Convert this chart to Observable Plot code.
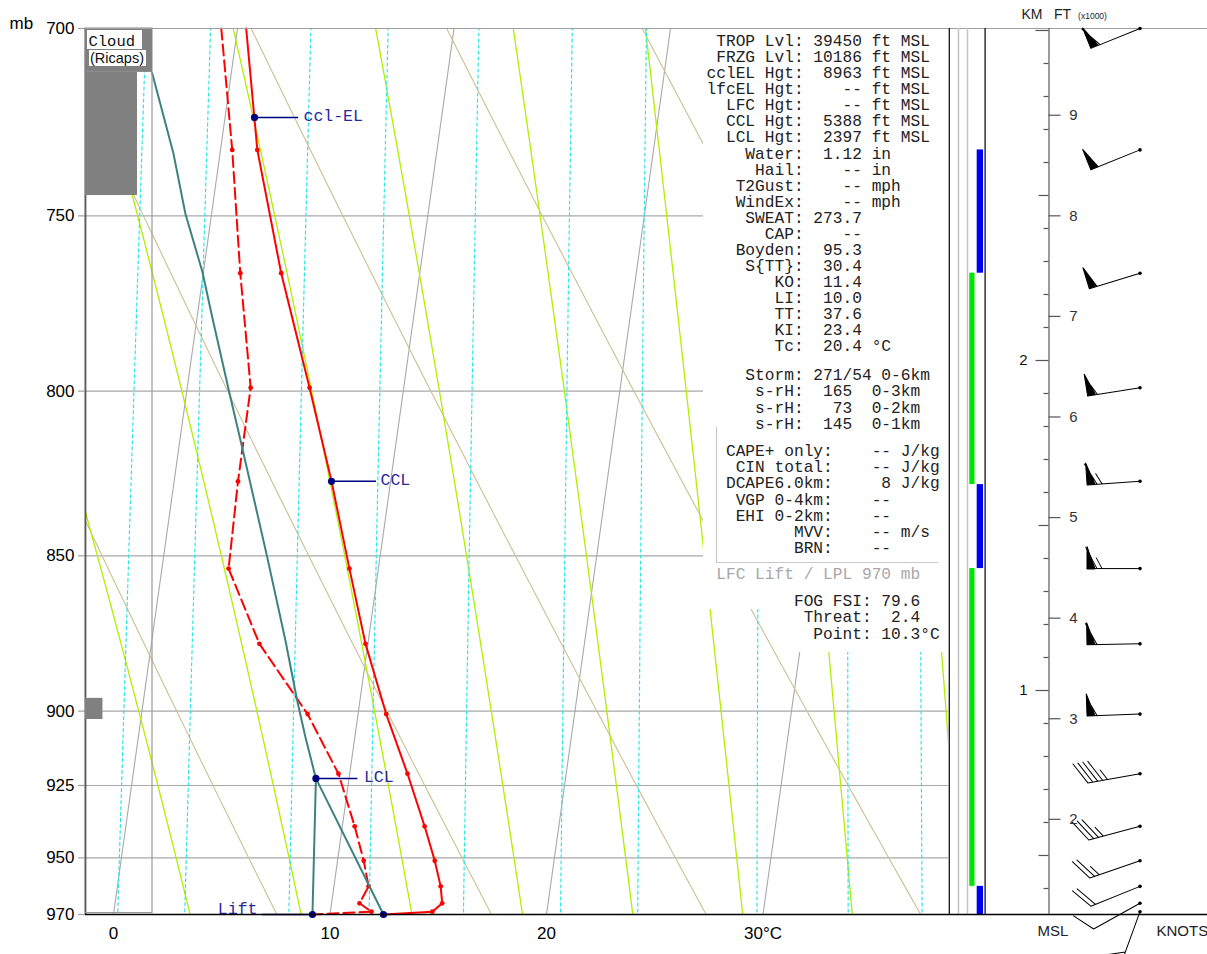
<!DOCTYPE html>
<html><head><meta charset="utf-8">
<script src="https://cdn.jsdelivr.net/npm/d3@7"></script>
<script src="https://cdn.jsdelivr.net/npm/@observablehq/plot@0.6"></script>
<style>
html,body{margin:0;padding:0;background:#fff;}
#wrap{position:relative;width:1207px;height:954px;overflow:hidden;background:#fff;}
#wrap > div{position:absolute;left:0;top:0;width:1207px;height:954px;}
#wrap svg{max-width:none !important;overflow:visible;}
</style></head><body><div id="wrap"></div>
<script>
// ---------------- data ----------------
const pTicks = [700, 750, 800, 850, 900, 925, 950, 970];
const tTicks = [0, 10, 20, 30];
const tTickLabels = ["0", "10", "20", "30°C"];

const levelsP = [700, 732, 766, 799, 827, 854, 878, 901, 921, 939, 951, 960, 966, 969, 970];
const tempC   = [0.4, 1.7, 3.6, 5.65, 7.27, 8.66, 9.89, 11.3, 12.67, 13.8, 14.49, 14.93, 15.11, 14.71, 12.47];
const dewC    = [-0.75, 0.54, 1.71, 2.93, 2.95, 3.08, 4.99, 7.67, 9.48, 10.57, 11.21, 11.6, 11.29, 11.9, 9.19];

const parcelMoistP = [922.6, 908.7, 896.5, 876.9, 850.4, 816.7, 799.8, 778.5, 765.6, 749.4, 733, 711.5];
const parcelMoistT = [8.47, 7.72, 7.10, 6.17, 4.79, 2.92, 1.94, 0.70, -0.05, -1.21, -2.15, -3.66];
const parcelDryP = [970, 922.6];
const parcelDryT = [12.47, 8.47];
const parcelMixP = [970, 922.6];
const parcelMixT = [9.19, 8.47];

const markerNames = ["ccl-EL", "CCL", "LCL", "Lift"];
const markerP = [723.3, 827, 922.6, 970];
const markerT = [1.36, 7.27, 8.47, 9.19];
const surfaceP = [970];
const surfaceT = [12.47];

const windP   = [700, 732, 766, 799, 827, 854, 878, 901, 921, 939, 951, 960, 966, 969];
const windDir = [248, 248, 253, 261, 266, 270, 269, 268, 260, 255, 251, 248, 241, 200];
const windSpd = [60, 50, 50, 55, 65, 65, 60, 55, 45, 35, 25, 20, 10, 30];

const isoT = [0, 10, 20, 30];
const dryThetaC = [-10, 0, 10, 20, 30, 40, 50, 60, 70, 80];
const moistThetaW = [-5, 0, 5, 10, 15, 20, 25, 30, 35, 40, 45];
const mixRatios = [4, 5, 7, 9, 12, 16, 20, 28, 36, 44];

const cloudTopP = [700, 711.4, 895.8];
const cloudBotP = [711.4, 744.4, 902.8];
const cloudCover = [100, 77.6, 26];

const barTopP = [732, 766, 828, 854, 960];
const barBotP = [766, 828, 854, 960, 970];
const barKind = ["blue", "green", "blue", "green", "blue"];

const kmLabels = [1, 2];
const ftLabels = [2, 3, 4, 5, 6, 7, 8, 9];
const stationKm = 0.3212;

const stats1 = [
" TROP Lvl: 39450 ft MSL",
" FRZG Lvl: 10186 ft MSL",
"cclEL Hgt:  8963 ft MSL",
"lfcEL Hgt:    -- ft MSL",
"  LFC Hgt:    -- ft MSL",
"  CCL Hgt:  5388 ft MSL",
"  LCL Hgt:  2397 ft MSL",
"    Water:  1.12 in",
"     Hail:    -- in",
"   T2Gust:    -- mph",
"   WindEx:    -- mph",
"    SWEAT: 273.7",
"      CAP:    --",
"   Boyden:  95.3",
"    S{TT}:  30.4",
"       KO:  11.4",
"       LI:  10.0",
"       TT:  37.6",
"       KI:  23.4",
"       Tc:  20.4 °C"];
const stats2 = [
"    Storm: 271/54 0-6km",
"     s-rH:  165  0-3km",
"     s-rH:   73  0-2km",
"     s-rH:  145  0-1km"];
const stats3 = [
"  CAPE+ only:    -- J/kg",
"   CIN total:    -- J/kg",
"  DCAPE6.0km:     8 J/kg",
"   VGP 0-4km:    --",
"   EHI 0-2km:    --",
"         MVV:    -- m/s",
"         BRN:    --"];
const liftNote = [" LFC Lift / LPL 970 mb"];
const fogLines = [
"         FOG FSI: 79.6",
"          Threat:  2.4",
"           Point: 10.3°C"];

// ---------------- geometry / physics helpers ----------------
const W = 1207, H = 954;
const XL = 85, XR = 948, YT = 28, YB = 914;
const x0px = 113, pxPerC = 21.65;
const xmin = (XL - x0px) / pxPerC, xmax = (XR - x0px) / pxPerC;
const K = 17.56; // skew (°C per ln p)
const X = (T, p) => T + K * Math.log(970 / p);

const es = Tc => 6.112 * Math.exp(17.67 * Tc / (Tc + 243.5));
function moistLapse(p, Tk) {
  const e = es(Tk - 273.15), rs = 0.622 * e / (p - e);
  const Rd = 287.04, Cp = 1005.7, Lv = 2.501e6, eps = 0.622;
  return (Rd * Tk + Lv * rs) / (p * (Cp + Lv * Lv * rs * eps / (Rd * Tk * Tk)));
}
const moistData = [];
for (const th of moistThetaW) {
  let p = 1000, T = th + 273.15;
  while (p >= 695) {
    if (p <= 980) moistData.push({id: th, p, T: T - 273.15});
    const dp = -1, k1 = moistLapse(p, T), k2 = moistLapse(p + dp / 2, T + k1 * dp / 2);
    T += k2 * dp; p += dp;
  }
}
const pGrid = d3.range(695, 981, 5);
const dryData = dryThetaC.flatMap(th => pGrid.map(p => ({id: th, p, T: (th + 273.15) * Math.pow(p / 1000, 0.2857) - 273.15})));
const mixData = mixRatios.flatMap(w => pGrid.map(p => {
  const e = w * p / (622 + w), l = Math.log(e / 6.112);
  return {id: w, p, T: 243.5 * l / (17.67 - l)};
}));
const isoData = isoT.flatMap(t => [680, 990].map(p => ({id: t, p, T: t})));

const sounding = levelsP.map((p, i) => ({p, t: tempC[i], td: dewC[i]}));
const inner = sounding.filter(d => d.p > 700 && d.p < 970);
const parcel = [
  ...parcelMoistP.map((p, i) => ({id: "moist", p, T: parcelMoistT[i]})),
  ...parcelDryP.map((p, i) => ({id: "dry", p, T: parcelDryT[i]})),
  ...parcelMixP.map((p, i) => ({id: "mix", p, T: parcelMixT[i]}))
];
const markers = markerNames.map((name, i) => ({name, p: markerP[i], T: markerT[i]}));
const surface = surfaceP.map((p, i) => ({p, T: surfaceT[i]}));

// layout (pixels)
const leadPx = {"ccl-EL": 44, "CCL": 45, "LCL": 42, "Lift": -50};
const labelPx = {"ccl-EL": 49, "CCL": 49, "LCL": 48, "Lift": -55};
const yTickPx = 7;

const sans = "'Liberation Sans', Arial, Helvetica, sans-serif";
const mono = "'Liberation Mono', 'Courier New', monospace";
const navy = "#000080", labelBlue = "#2a2a9a", teal = "#3e8181";

const wrap = document.getElementById("wrap");
function add(svg) { const d = document.createElement("div"); d.appendChild(svg); wrap.appendChild(d); }

// ---------------- main skew-T ----------------
add(Plot.plot({
  width: W, height: H,
  marginLeft: XL, marginRight: W - XR, marginTop: YT, marginBottom: H - YB,
  style: {fontFamily: sans, fontSize: "17px", color: "black", background: "transparent"},
  x: {domain: [xmin, xmax], range: [XL, XR], ticks: tTicks, tickFormat: d => tTickLabels[tTicks.indexOf(d)], tickSize: 0, tickPadding: 12, label: null},
  y: {type: "log", domain: [700, 970], range: [YT, YB], axis: null},
  marks: [
    Plot.ruleY(pTicks.filter(p => p > 700 && p < 970), {stroke: "#a8a8a8", strokeWidth: 1.2}),
    Plot.ruleY(pTicks, {y: d => d, x1: xmin - yTickPx / pxPerC, x2: xmin, stroke: "#a0a0a0", strokeWidth: 1.2}),
    Plot.text(pTicks, {x: xmin, y: d => d, dx: -yTickPx - 4, text: d => String(d), textAnchor: "end", fontSize: 17, fill: "black"}),
    Plot.line(isoData, {x: d => X(d.T, d.p), y: "p", z: "id", stroke: "#a9a9a9", strokeWidth: 1.1, clip: true}),
    Plot.line(dryData, {x: d => X(d.T, d.p), y: "p", z: "id", stroke: "#cdbf91", strokeWidth: 1.1, clip: true}),
    Plot.line(moistData, {x: d => X(d.T, d.p), y: "p", z: "id", stroke: "#b2ee00", strokeWidth: 1.3, clip: true}),
    Plot.line(mixData, {x: d => X(d.T, d.p), y: "p", z: "id", stroke: "#2fe6e6", strokeWidth: 1.2, strokeDasharray: "3,3", clip: true}),
    Plot.ruleX([xmin], {y1: 700, y2: 970, stroke: "black", strokeWidth: 1.5}),
    Plot.line(sounding, {x: d => X(d.td, d.p), y: "p", stroke: "#ff0000", strokeWidth: 2, strokeDasharray: "11,5"}),
    Plot.line(sounding, {x: d => X(d.t, d.p), y: "p", stroke: "#ff0000", strokeWidth: 2}),
    Plot.dot(inner, {x: d => X(d.t, d.p), y: "p", r: 2.4, fill: "#ff0000"}),
    Plot.dot(inner, {x: d => X(d.td, d.p), y: "p", r: 2.4, fill: "#ff0000"}),
    Plot.line(parcel, {x: d => X(d.T, d.p), y: "p", z: "id", stroke: teal, strokeWidth: 2}),
    Plot.ruleY(markers, {y: "p", x1: d => X(d.T, d.p), x2: d => X(d.T, d.p) + leadPx[d.name] / pxPerC, stroke: navy, strokeWidth: 1.4}),
    Plot.dot(markers, {x: d => X(d.T, d.p), y: "p", r: 3.6, fill: navy}),
    Plot.dot(surface, {x: d => X(d.T, d.p), y: "p", r: 3.6, fill: navy}),
    Plot.text(markers.filter(d => d.name !== "Lift"), {x: d => X(d.T, d.p) + labelPx[d.name] / pxPerC, y: "p", text: "name", textAnchor: "start", fill: labelBlue, fontFamily: mono, fontSize: 16.5, dy: -2}),
    Plot.text(markers.filter(d => d.name === "Lift"), {x: d => X(d.T, d.p) + labelPx[d.name] / pxPerC, y: "p", text: "name", textAnchor: "end", fill: labelBlue, fontFamily: mono, fontSize: 16.5, dy: -6})
  ]
}));

// ---------------- cloud column ----------------
const clouds = cloudTopP.map((p, i) => ({p1: p, p2: cloudBotP[i], c: cloudCover[i]}));
add(Plot.plot({
  width: W, height: H, margin: 0,
  style: {background: "transparent"},
  x: {domain: [0, 100], range: [XL, 152], axis: null},
  y: {type: "log", domain: [700, 970], range: [YT, YB], axis: null},
  marks: [
    Plot.rect([{}], {x1: 0, x2: 100, y1: 700, y2: 969.5, fill: "none", stroke: "#9a9a9a", strokeWidth: 1.2}),
    Plot.rect(clouds, {x1: 0, x2: "c", y1: "p1", y2: "p2", fill: "#808080"})
  ]
}));

// ---------------- text panel / labels (pixel layout) ----------------
const rows = [];
const pushBlock = (arr, y0, dy, fill) => arr.forEach((t, i) => rows.push({t, y: y0 + i * dy, fill}));
pushBlock(stats1, 40.5, 16.05, "#222");
pushBlock(stats2, 374.5, 16.2, "#222");
pushBlock(stats3, 450, 16.3, "#222");
pushBlock(liftNote, 573, 16, "#a8a8a8");
pushBlock(fogLines, 600.5, 16.3, "#222");

add(Plot.plot({
  width: W, height: H, margin: 0,
  style: {background: "transparent"},
  x: {type: "identity", axis: null},
  y: {type: "identity", axis: null},
  marks: [
    Plot.rect([{x1: 703, x2: 948, y1: 29, y2: 609}, {x1: 790, x2: 948, y1: 608, y2: 652}], {x1: "x1", x2: "x2", y1: "y1", y2: "y2", fill: "white"}),
    Plot.ruleX([716], {y1: 427, y2: 562, stroke: "#c8c8c8", strokeWidth: 1.2}),
    Plot.ruleY([562], {x1: 716, x2: 938, stroke: "#c8c8c8", strokeWidth: 1.2}),
    Plot.text(rows, {x: 706, y: "y", text: "t", fill: "fill", textAnchor: "start", fontFamily: mono, fontSize: 16.2}),
    // cloud label
    Plot.rect([{x1: 87, x2: 142, y1: 30, y2: 49}, {x1: 89, x2: 146, y1: 50, y2: 66}], {x1: "x1", x2: "x2", y1: "y1", y2: "y2", fill: "white"}),
    Plot.text(["Cloud"], {x: 88, y: 40.5, text: d => d, textAnchor: "start", fontFamily: mono, fontSize: 15.5, fill: "#111"}),
    Plot.text(["(Ricaps)"], {x: 89.5, y: 58, text: d => d, textAnchor: "start", fontFamily: sans, fontSize: 14.5, fill: "#111"}),
    Plot.text(["mb"], {x: 9, y: 23, text: d => d, textAnchor: "start", fontFamily: sans, fontSize: 17, fill: "black"}),
    Plot.text(["KM"], {x: 1031.5, y: 14.5, text: d => d, fontFamily: sans, fontSize: 14, fill: "#222"}),
    Plot.text(["FT"], {x: 1062, y: 14.5, text: d => d, fontFamily: sans, fontSize: 14, fill: "#222"}),
    Plot.text(["(x1000)"], {x: 1092, y: 16, text: d => d, fontFamily: sans, fontSize: 8.5, fill: "#222"}),
    Plot.text(["MSL"], {x: 1052.5, y: 930.5, text: d => d, fontFamily: sans, fontSize: 15, fill: "#222"}),
    Plot.text(["KNOTS"], {x: 1156, y: 930.5, text: d => d, textAnchor: "start", fontFamily: sans, fontSize: 15, fill: "#222"})
  ]
}));

// ---------------- right columns: bars + wind barbs ----------------
function barbShape(spd) {
  return {
    draw(ctx) {
      const L = 53, bl = 24, ang = 62 * Math.PI / 180, fh = 22, fw = 8, step = 5;
      ctx.moveTo(0, 0); ctx.lineTo(0, -L);
      let s = Math.round(spd / 5) * 5, pos = L;
      while (s >= 50) {
        ctx.moveTo(0, -pos); ctx.lineTo(fh, -pos); ctx.lineTo(0, -pos + fw); ctx.closePath();
        pos -= fw + 2; s -= 50;
      }
      while (s >= 10) {
        ctx.moveTo(0, -pos); ctx.lineTo(bl * Math.sin(ang), -pos - bl * Math.cos(ang));
        pos -= step; s -= 10;
      }
      if (s >= 5) {
        if (pos === L) pos -= step;
        ctx.moveTo(0, -pos); ctx.lineTo(bl / 2 * Math.sin(ang), -pos - bl / 2 * Math.cos(ang));
      }
    }
  };
}
const winds = windP.map((p, i) => ({p, dir: windDir[i], spd: windSpd[i]}));
const bars = barTopP.map((p, i) => ({p1: p, p2: barBotP[i], kind: barKind[i]}));
const stationX = 1139.5;

add(Plot.plot({
  width: W, height: H, margin: 0,
  style: {background: "transparent"},
  x: {domain: [0, W], range: [0, W], axis: null},
  y: {type: "log", domain: [700, 970], range: [YT, YB], axis: null},
  marks: [
    Plot.ruleY([700], {x1: XL, x2: W, stroke: "#a0a0a0", strokeWidth: 1.2}),
    Plot.ruleX([958, 967], {y1: 700, y2: 970, stroke: "#c4c4c4", strokeWidth: 1.5}),
    Plot.rect(bars, {x1: d => d.kind === "green" ? 969.3 : 976.7, x2: d => d.kind === "green" ? 974.5 : 983, y1: "p1", y2: "p2", fill: d => d.kind === "green" ? "#00e600" : "#0000f0"}),
    Plot.ruleX([948.8, 984.6], {y1: 700, y2: 970, stroke: "#111", strokeWidth: 1.3}),
    Plot.ruleY([970], {x1: XL, x2: W, stroke: "black", strokeWidth: 1.5}),
    ...winds.map(w => Plot.vector([w], {x: stationX, y: "p", rotate: "dir", length: 53, anchor: "start", shape: barbShape(w.spd), stroke: "black", fill: "black", strokeWidth: 1})),
    Plot.dot(winds, {x: stationX, y: "p", r: 1.8, fill: "black"})
  ]
}));

// ---------------- height axis (km / kft) ----------------
const kmTop = stationKm + (YB - YT) / 330;
const kmTicks = d3.range(4, 31).map(k => k / 10);
const tickLen = km => Math.abs(km - Math.round(km)) < 1e-6 ? 13 : Math.abs(km * 2 - Math.round(km * 2)) < 1e-6 ? 10 : 5;
const axisX = 1048.5;
add(Plot.plot({
  width: W, height: H, margin: 0,
  style: {background: "transparent"},
  x: {domain: [0, W], range: [0, W], axis: null},
  y: {domain: [stationKm, kmTop], range: [YB, YT], axis: null},
  marks: [
    Plot.ruleX([axisX], {y1: stationKm, y2: kmTop, stroke: "#666", strokeWidth: 1.3}),
    Plot.ruleY(kmTicks, {y: d => d, x1: d => axisX - tickLen(d), x2: axisX, stroke: "#555", strokeWidth: 1.2}),
    Plot.ruleY(ftLabels, {y: d => d * 0.3048, x1: axisX, x2: axisX + 12, stroke: "#555", strokeWidth: 1.2}),
    Plot.text(kmLabels, {x: 1023, y: d => d, text: d => String(d), fontFamily: sans, fontSize: 15, fill: "#111"}),
    Plot.text(ftLabels, {x: 1073, y: d => d * 0.3048, text: d => String(d), fontFamily: sans, fontSize: 15, fill: "#333"})
  ]
}));
</script></body></html>
